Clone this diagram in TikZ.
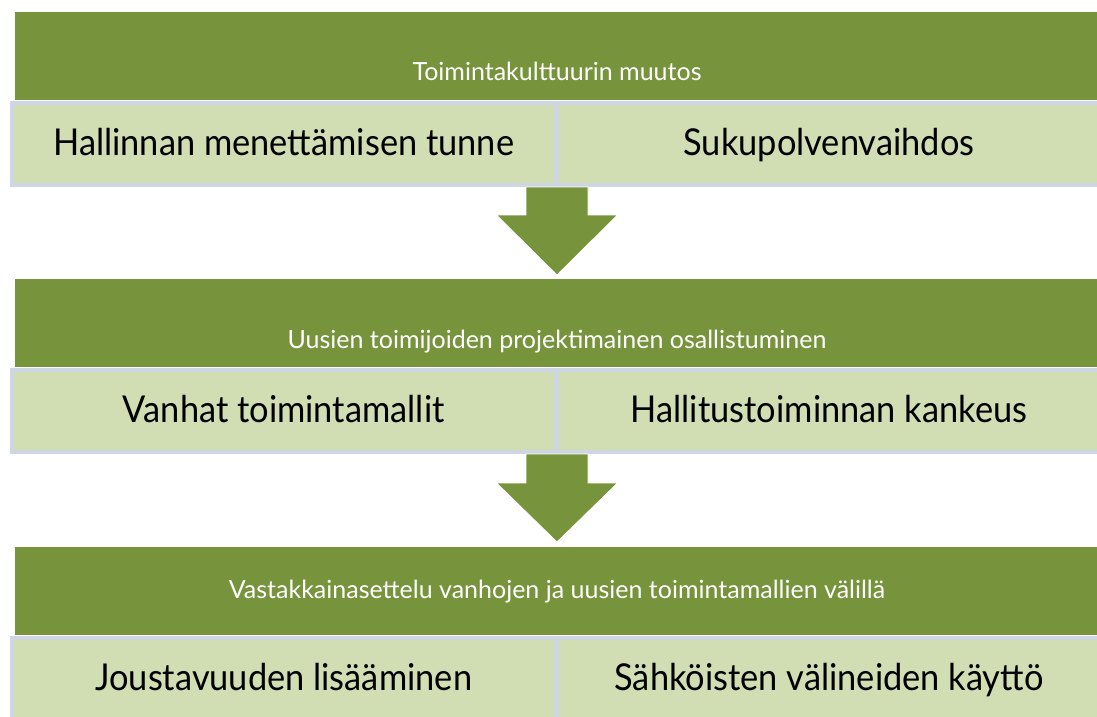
\documentclass[tikz,border=0pt]{standalone}
\usepackage{fontspec}
\setmainfont{Lato}
\newfontfamily\boxfont[FakeStretch=0.93]{Lato}
\usetikzlibrary{calc}
\definecolor{olive}{HTML}{77933C}
\definecolor{pale}{HTML}{D1DDB2}
\definecolor{rim}{HTML}{CDD6E2}
\begin{document}
\begin{tikzpicture}[x=1pt,y=-1pt,
  greenbar/.style={fill=olive, draw=none, minimum width=1084.6pt, minimum height=88pt, inner sep=0pt, outer sep=0pt, anchor=north},
  palebox/.style={fill=pale, draw=rim, line width=4pt, minimum height=82pt, inner sep=0pt, outer sep=0pt},
  headtext/.style={text=white, font=\fontsize{25}{30}\selectfont, anchor=base, inner sep=0pt},
  boxtext/.style={text=black, font=\boxfont\fontsize{37}{44}\selectfont, anchor=base, inner sep=0pt},
  blockarrow/.style={fill=olive, draw=white, line width=0.8pt}
]
\useasboundingbox (0,0) rectangle (1097,716);
\fill[white] (0,0) rectangle (1097,716);
\clip (0,0) rectangle (1097,716);

% row 1
\node[greenbar] (g1) at (557,12) {};
\node[headtext] (t1) at (557,80) {Toimintakulttuurin muutos};
\node[palebox, minimum width=543.5pt] (l1) at (283.75,144) {};
\node[palebox, minimum width=544pt] (r1) at (829,144) {};
\node[boxtext] (lt1) at (283.75,155) {Hallinnan menettämisen tunne};
\node[boxtext] (rt1) at (829,155) {Sukupolvenvaihdos};

% row 2
\node[greenbar] (g2) at (557,279) {};
\node[headtext] (t2) at (557,348) {Uusien toimijoiden projektimainen osallistuminen};
\node[palebox, minimum width=543.5pt] (l2) at (283.75,411) {};
\node[palebox, minimum width=544pt] (r2) at (829,411) {};
\node[boxtext] (lt2) at (283.75,422) {Vanhat toimintamallit};
\node[boxtext] (rt2) at (829,422) {Hallitustoiminnan kankeus};

% row 3
\node[greenbar] (g3) at (557,547) {};
\node[headtext] (t3) at (557,598) {Vastakkainasettelu vanhojen ja uusien toimintamallien välillä};
\node[palebox, minimum width=543.5pt] (l3) at (283.75,679) {};
\node[palebox, minimum width=544pt] (r3) at (829,679) {};
\node[boxtext] (lt3) at (283.75,690) {Joustavuuden lisääminen};
\node[boxtext] (rt3) at (829,690) {Sähköisten välineiden käyttö};

% block arrows
\coordinate (a1top) at (557,187);
\coordinate (a1tip) at (557,275);
\coordinate (a2top) at (557,454);
\coordinate (a2tip) at (557,542);
\filldraw[blockarrow] ($(a1top)+(-31,0)$) -- ++(62,0) -- ++(0,28) -- ++(29.5,0) -- (a1tip) -- ++(-60.5,-60) -- ++(29.5,0) -- cycle;
\filldraw[blockarrow] ($(a2top)+(-31,0)$) -- ++(62,0) -- ++(0,29) -- ++(29.5,0) -- (a2tip) -- ++(-60.5,-59) -- ++(29.5,0) -- cycle;
\end{tikzpicture}
\end{document}
